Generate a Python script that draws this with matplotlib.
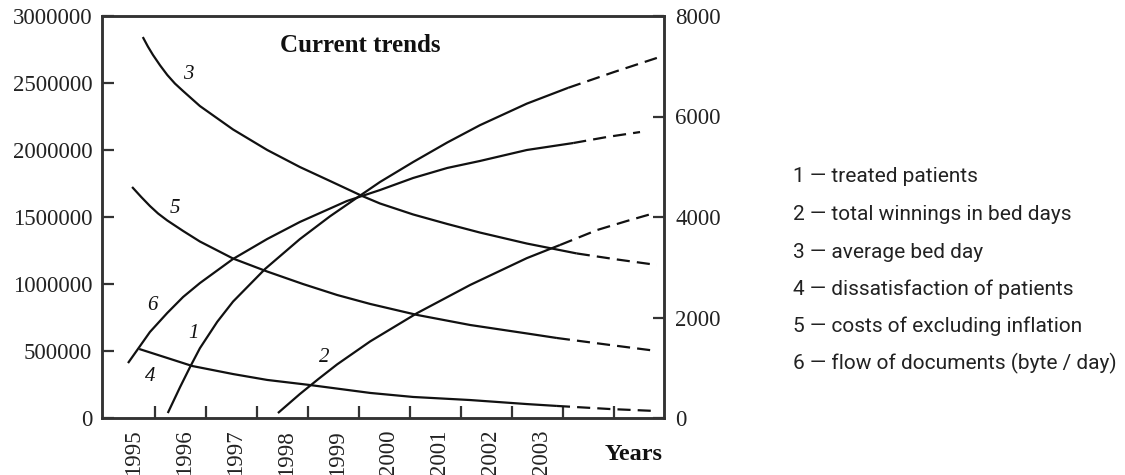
import matplotlib
matplotlib.use("Agg")
import matplotlib.pyplot as plt

# ---------------- data ----------------
years = [1995, 1996, 1997, 1998, 1999, 2000, 2001, 2002, 2003]
year_bounds = [1996, 1997, 1998, 1999, 2000, 2001, 2002, 2003, 2004, 2005]
left_ticks = [0, 500000, 1000000, 1500000, 2000000, 2500000, 3000000]
right_ticks = [0, 2000, 4000, 6000, 8000]

legend_labels = [
    "1 \u2014 treated patients",
    "2 \u2014 total winnings in bed days",
    "3 \u2014 average bed day",
    "4 \u2014 dissatisfaction of patients",
    "5 \u2014 costs of excluding inflation",
    "6 \u2014 flow of documents (byte / day)",
]
curve_ids = ["1", "2", "3", "4", "5", "6"]

# curve 1 - treated patients
c1_x = [1996.25, 1996.49, 1996.69, 1996.88, 1997.22, 1997.53, 1998.16, 1998.84,
        1999.43, 2000.06, 2000.41, 2001.06, 2001.73, 2002.37, 2003.29, 2004.10]
c1_y = [37e3, 230e3, 383e3, 521e3, 718e3, 869e3, 1113e3, 1335e3,
        1505e3, 1670e3, 1761e3, 1910e3, 2056e3, 2185e3, 2346e3, 2464e3]
c1_fx = [2004.10, 2005.00, 2005.84]
c1_fy = [2464e3, 2582e3, 2687e3]

# curve 2 - total winnings in bed days
c2_x = [1998.41, 1998.84, 1999.20, 1999.57, 2000.22, 2001.14, 2002.18, 2003.29, 2003.94]
c2_y = [37e3, 179e3, 290e3, 400e3, 572e3, 783e3, 993e3, 1193e3, 1291e3]
c2_fx = [2003.94, 2004.67, 2005.25, 2005.80]
c2_fy = [1291e3, 1403e3, 1470e3, 1530e3]

# curve 3 - average bed day
c3_x = [1995.76, 1995.86, 1995.96, 1996.10, 1996.24, 1996.39, 1996.55, 1996.88,
        1997.53, 1998.20, 1998.84, 1999.43, 2000.06, 2000.41, 2001.06, 2001.73,
        2002.37, 2003.29, 2004.27]
c3_y = [2843e3, 2772e3, 2709e3, 2631e3, 2560e3, 2496e3, 2440e3, 2328e3,
        2153e3, 2000e3, 1873e3, 1769e3, 1657e3, 1601e3, 1519e3, 1448e3,
        1384e3, 1302e3, 1228e3]
c3_fx = [2004.27, 2005.06, 2005.84]
c3_fy = [1228e3, 1183e3, 1142e3]

# curve 4 - dissatisfaction of patients
c4_x = [1995.69, 1996.24, 1996.73, 1997.53, 1998.20, 1999.04, 2000.22, 2001.06,
        2002.18, 2003.29, 2003.88]
c4_y = [515e3, 448e3, 388e3, 328e3, 284e3, 246e3, 187e3, 157e3,
        134e3, 104e3, 90e3]
c4_fx = [2003.88, 2004.92, 2005.84]
c4_fy = [90e3, 67e3, 52e3]

# curve 5 - costs of excluding inflation
c5_x = [1995.55, 1995.73, 1995.90, 1996.06, 1996.24, 1996.55, 1996.88, 1997.53,
        1998.20, 1998.90, 1999.57, 2000.22, 2001.14, 2002.18, 2003.29, 2003.88]
c5_y = [1724e3, 1649e3, 1582e3, 1526e3, 1474e3, 1396e3, 1317e3, 1190e3,
        1093e3, 1000e3, 918e3, 851e3, 769e3, 694e3, 631e3, 597e3]
c5_fx = [2003.88, 2004.92, 2005.84]
c5_fy = [597e3, 545e3, 500e3]

# curve 6 - flow of documents
c6_x = [1995.47, 1995.65, 1995.90, 1996.24, 1996.55, 1996.88, 1997.53, 1998.20,
        1998.84, 1999.76, 2000.06, 2000.41, 2001.06, 2001.73, 2002.37, 2003.29, 2004.20]
c6_y = [410e3, 507e3, 642e3, 784e3, 903e3, 1007e3, 1187e3, 1336e3,
        1463e3, 1619e3, 1657e3, 1701e3, 1791e3, 1866e3, 1918e3, 2000e3, 2052e3]
c6_fx = [2004.20, 2004.86, 2005.51]
c6_fy = [2052e3, 2097e3, 2134e3]

# ---------------- figure ----------------
serif = ["Liberation Serif", "DejaVu Serif"]
W, H = 1125, 475
fig = plt.figure(figsize=(W / 100, H / 100), dpi=100)
fig.patch.set_facecolor("white")

ax = fig.add_axes([102 / W, (H - 418) / H, (664 - 102) / W, (418 - 16) / H])
ax2 = ax.twinx()

ink = "#111111"
lw = 1.6
dash = (0, (5.9, 3.2))
observed = [(c1_x, c1_y), (c2_x, c2_y), (c3_x, c3_y), (c4_x, c4_y), (c5_x, c5_y), (c6_x, c6_y)]
forecast = [(c1_fx, c1_fy), (c2_fx, c2_fy), (c3_fx, c3_fy), (c4_fx, c4_fy), (c5_fx, c5_fy), (c6_fx, c6_fy)]
for (ox, oy), (fx, fy) in zip(observed, forecast):
    ax.plot(ox, oy, color=ink, lw=lw, solid_capstyle="butt", solid_joinstyle="round")
    ax.plot(fx, fy, color=ink, lw=lw, linestyle=dash, dash_capstyle="butt")

ax.set_xlim(1994.96, 2005.98)
ax.set_ylim(0, 3000000)
ax2.set_ylim(0, 8000)

# curve number labels
label_pos = {"1": (1996.75, 634e3), "2": (1999.31, 455e3), "3": (1996.65, 2560e3),
             "4": (1995.90, 306e3), "5": (1996.39, 1567e3), "6": (1995.94, 843e3)}
for cid in curve_ids:
    px, py = label_pos[cid]
    ax.text(px, py, cid, family=serif, style="italic", fontsize=15,
            ha="center", va="center", color=ink)

# axes styling
spine_c = "#333333"
for a in (ax, ax2):
    for s in a.spines.values():
        s.set_color(spine_c)
        s.set_linewidth(1.8)

ax.set_yticks(left_ticks)
ax.set_yticklabels([str(v) for v in left_ticks])
ax.tick_params(axis="y", direction="in", length=8.5, width=1.6, pad=7,
               labelsize=16.5, colors=spine_c, labelcolor="#222222")
ax2.set_yticks(right_ticks)
ax2.set_yticklabels([str(v) for v in right_ticks])
ax2.tick_params(axis="y", direction="in", length=8, width=1.6, pad=8,
                labelsize=16.5, colors=spine_c, labelcolor="#222222")

ax.set_xticks(year_bounds)
ax.set_xticklabels([])
ax.set_xticks([y + 0.58 for y in years], minor=True)
ax.set_xticklabels([str(y) for y in years], minor=True, rotation=90)
ax.tick_params(axis="x", which="major", direction="in", length=8.5, width=1.6, colors=spine_c)
ax.tick_params(axis="x", which="minor", length=0, pad=8.5, labelsize=16.5, labelcolor="#222222")

for lab in ax.get_yticklabels() + ax2.get_yticklabels() + ax.get_xticklabels(minor=True):
    lab.set_family(serif)

fig.text(360 / W, (H - 46) / H, "Current trends", family=serif, fontweight="bold",
         fontsize=18, ha="center", va="center", color=ink)
fig.text(634 / W, (H - 455) / H, "Years", family=serif, fontweight="bold",
         fontsize=17.5, ha="center", va="center", color=ink)

leg_y = [177, 214, 252, 289, 326, 363]
for txt, yy in zip(legend_labels, leg_y):
    fig.text(793 / W, (H - yy) / H, txt, family=["Roboto", "DejaVu Sans"], fontsize=15,
             ha="left", va="center", color="#222222")

fig.savefig("out.png", dpi=100, facecolor="white")
